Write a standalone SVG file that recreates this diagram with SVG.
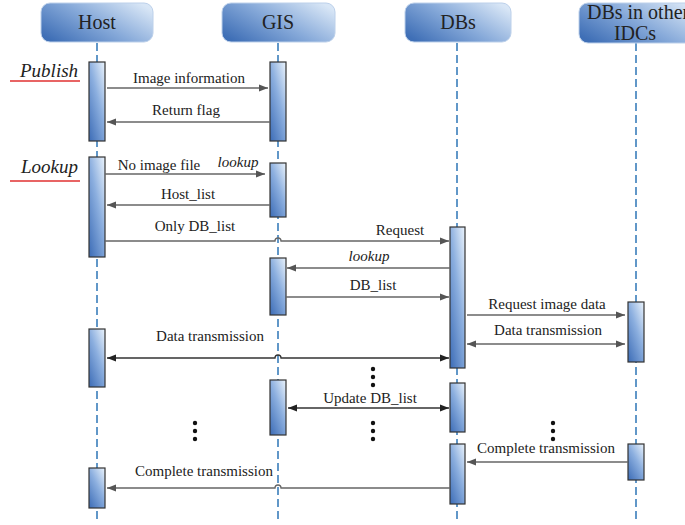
<svg xmlns="http://www.w3.org/2000/svg" width="685" height="525" viewBox="0 0 685 525" font-family="'Liberation Serif', 'Times New Roman', 'DejaVu Serif', serif">
<defs>
<linearGradient id="hg" x1="0" y1="0.8" x2="1" y2="0.2">
<stop offset="0" stop-color="#3f6fb6"/>
<stop offset="0.5" stop-color="#86a9d9"/>
<stop offset="1" stop-color="#d8e6f6"/>
</linearGradient>
<linearGradient id="ag" x1="0.9" y1="0" x2="0.1" y2="1">
<stop offset="0" stop-color="#e2edf9"/>
<stop offset="0.45" stop-color="#8cafdf"/>
<stop offset="1" stop-color="#4271b9"/>
</linearGradient>
<marker id="ah" viewBox="0 0 10 10" refX="10" refY="5" markerWidth="9" markerHeight="9" markerUnits="userSpaceOnUse" orient="auto-start-reverse">
<path d="M0,1 L10,5 L0,9 Z" fill="#555"/>
</marker>
<marker id="ahd" viewBox="0 0 10 10" refX="10" refY="5" markerWidth="9" markerHeight="9" markerUnits="userSpaceOnUse" orient="auto-start-reverse">
<path d="M0,1 L10,5 L0,9 Z" fill="#222"/>
</marker>
</defs>
<style>
text{font-family:'Liberation Serif','Times New Roman','DejaVu Serif',serif}
.hdr{fill:url(#hg);stroke:#bcd0ea;stroke-width:1}
.ht{font-size:20px;fill:#222;text-anchor:middle}
.life{stroke:#2e75b6;stroke-width:1.5;stroke-dasharray:8 4;fill:none}
.act{fill:url(#ag);stroke:#333;stroke-width:1.2}
.msg{stroke:#666;stroke-width:1.3;fill:none;marker-end:url(#ah)}
.msgd{stroke:#333;stroke-width:1.3;fill:none;marker-end:url(#ahd)}
.lb{font-size:15px;fill:#222;text-anchor:middle}
.it{font-style:italic}
.sec{font-size:19px;font-style:italic;fill:#222}
.red{stroke:#e03030;stroke-width:1.5}
.dot{fill:#111}
</style>

<g id="lifelines">
<line class="life" x1="97" y1="43" x2="97" y2="520"/>
<line class="life" x1="278" y1="43" x2="278" y2="520"/>
<line class="life" x1="457" y1="43" x2="457" y2="520"/>
<line class="life" x1="636" y1="43" x2="636" y2="520"/>
</g>

<g id="host">
<rect class="hdr" x="41" y="3" width="112" height="39" rx="9"/>
<text class="ht" x="97" y="29">Host</text>
</g>
<g id="gis">
<rect class="hdr" x="222" y="3" width="113" height="39" rx="9"/>
<text class="ht" x="278" y="29">GIS</text>
</g>
<g id="dbs">
<rect class="hdr" x="405" y="3" width="106" height="39" rx="9"/>
<text class="ht" x="458" y="29">DBs</text>
</g>
<g id="dbs-other">
<rect class="hdr" x="579" y="3" width="120" height="40" rx="9"/>
<text class="ht" x="587" y="19" text-anchor="start" style="text-anchor:start">DBs in other</text>
<text class="ht" x="635" y="40">IDCs</text>
</g>

<g id="sections">
<text class="sec" x="20" y="77">Publish</text>
<line class="red" x1="10" y1="81" x2="80" y2="81"/>
<text class="sec" x="21" y="173">Lookup</text>
<line class="red" x1="10" y1="181" x2="80" y2="181"/>
</g>

<g id="activations">
<rect class="act" x="89" y="62" width="16" height="79"/>
<rect class="act" x="270" y="62" width="16" height="79"/>
<rect class="act" x="89" y="157" width="16" height="100"/>
<rect class="act" x="270" y="163" width="16" height="54"/>
<rect class="act" x="270" y="258" width="16" height="57"/>
<rect class="act" x="450" y="227" width="15" height="141"/>
<rect class="act" x="628" y="302" width="16" height="60"/>
<rect class="act" x="89" y="329" width="16" height="58"/>
<rect class="act" x="270" y="380" width="16" height="55"/>
<rect class="act" x="450" y="383" width="15" height="49"/>
<rect class="act" x="450" y="444" width="15" height="60"/>
<rect class="act" x="628" y="444" width="16" height="36"/>
<rect class="act" x="89" y="468" width="16" height="40"/>
</g>

<g id="connectors">
<line class="msg" x1="107" y1="88" x2="268" y2="88"/>
<line class="msg" x1="270" y1="122" x2="107" y2="122"/>
<line class="msg" x1="105" y1="174" x2="265" y2="174"/>
<line class="msg" x1="270" y1="205" x2="107" y2="205"/>
<path class="msg" d="M105,241 H275 A3,3 0 0 1 281,241 H449"/>
<line class="msg" x1="450" y1="268" x2="287" y2="268"/>
<line class="msg" x1="286" y1="297" x2="449" y2="297"/>
<line class="msg" x1="467" y1="315" x2="625" y2="315"/>
<line class="msg" x1="467" y1="344" x2="625" y2="344" marker-start="url(#ah)"/>
<path class="msgd" d="M107,358 H275 A3,3 0 0 1 281,358 H449" marker-start="url(#ahd)"/>
<line class="msgd" x1="288" y1="408" x2="449" y2="408" marker-start="url(#ahd)"/>
<line class="msg" x1="628" y1="462" x2="467" y2="462"/>
<path class="msg" d="M450,488 H281 A3,3 0 0 0 275,488 H107"/>
</g>

<g id="labels">
<text class="lb" x="189" y="83">Image information</text>
<text class="lb" x="186" y="115">Return flag</text>
<text class="lb" x="159" y="170">No image file</text>
<text class="lb it" x="238" y="167">lookup</text>
<text class="lb" x="188" y="199">Host_list</text>
<text class="lb" x="195" y="231">Only DB_list</text>
<text class="lb" x="400" y="235">Request</text>
<text class="lb it" x="369" y="261">lookup</text>
<text class="lb" x="373" y="290">DB_list</text>
<text class="lb" x="547" y="309">Request image data</text>
<text class="lb" x="548" y="335">Data transmission</text>
<text class="lb" x="210" y="341">Data transmission</text>
<text class="lb" x="370" y="403">Update DB_list</text>
<text class="lb" x="546" y="453">Complete transmission</text>
<text class="lb" x="204" y="476">Complete transmission</text>
</g>

<g id="ellipses">
<circle class="dot" cx="373" cy="369" r="2.2"/>
<circle class="dot" cx="373" cy="377" r="2.2"/>
<circle class="dot" cx="373" cy="385" r="2.2"/>
<circle class="dot" cx="195" cy="423" r="2.2"/>
<circle class="dot" cx="195" cy="431" r="2.2"/>
<circle class="dot" cx="195" cy="439" r="2.2"/>
<circle class="dot" cx="373" cy="423" r="2.2"/>
<circle class="dot" cx="373" cy="431" r="2.2"/>
<circle class="dot" cx="373" cy="439" r="2.2"/>
<circle class="dot" cx="553" cy="423" r="2.2"/>
<circle class="dot" cx="553" cy="431" r="2.2"/>
<circle class="dot" cx="553" cy="439" r="2.2"/>
</g>
</svg>
